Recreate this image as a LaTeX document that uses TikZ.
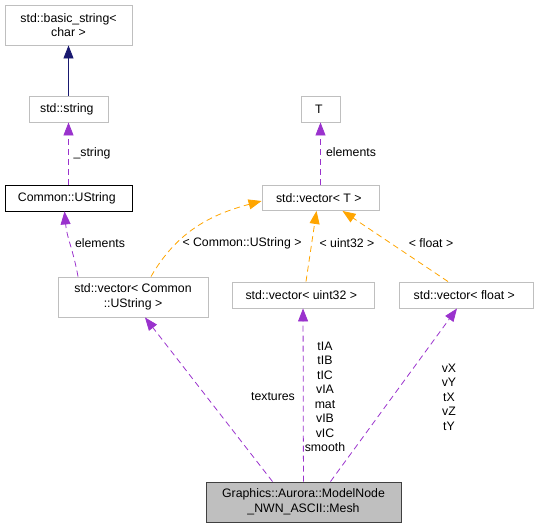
\documentclass[tikz,border=0pt]{standalone}
\usepackage{fontspec}
\setmainfont{Liberation Sans}
\usetikzlibrary{arrows.meta,positioning}
\definecolor{boxgray}{HTML}{BFBFBF}
\definecolor{meshfill}{HTML}{BFBFBF}
\definecolor{usepurple}{HTML}{9A32CD}
\definecolor{tmplorange}{HTML}{FFA500}
\definecolor{inhnavy}{HTML}{191970}

\begin{document}
\begin{tikzpicture}[x=1pt, y=1pt,
every node/.style={
    rectangle,
    inner sep=2pt,
    align=center,
    draw=boxgray,
    fill=white,
    line width=0.9pt,
    minimum height=26pt,
    font=\fontsize{12.3}{14.5}\selectfont
},
edgelabel/.style={draw=none, fill=none, minimum height=0pt, inner sep=0pt},
usage/.style={-{Triangle[length=13pt, width=10pt]}, usepurple, line width=0.8pt, dash pattern=on 6pt off 4pt},
tmpl/.style={-{Triangle[length=13pt, width=10pt]}, tmplorange, line width=0.8pt, dash pattern=on 6pt off 4pt},
inherit/.style={-{Triangle[length=13pt, width=10pt]}, inhnavy, line width=0.8pt}
]
    \useasboundingbox (0,0) rectangle (538,528);

    \node (basic_string) [minimum width=127pt, minimum height=40pt, shift={(68.5, 503)}]
    {
        std::basic\_string<\\ char >
    };
    \node (std_string) [minimum width=79pt, shift={(68.5, 419)}]
    {
        std::string
    };
    \node (common_ustring) [draw=black, minimum width=127pt, shift={(68.5, 330)}]
    {
        Common::UString
    };
    \node (vector_ustring) [minimum width=150pt, minimum height=40pt, shift={(133, 231)}]
    {
        std::vector< Common\\ ::UString >
    };

    %templates

    \node (t_param) [minimum width=39pt, shift={(320.5, 419)}]
    {
        T
    };
    \node (vector_t) [minimum width=117pt, minimum height=25pt, shift={(320.5, 330)}]
    {
        std::vector< T >
    };
    \node (vector_uint32) [minimum width=142pt, shift={(303, 233)}]
    {
        std::vector< uint32 >
    };
    \node (vector_float) [minimum width=134pt, shift={(466, 233)}]
    {
        std::vector< float >
    };

    \node (mesh) [draw=black!75, fill=meshfill, minimum width=195pt, minimum height=40pt, shift={(303.5, 26)}]
    {
        Graphics::Aurora::ModelNode\\ \_NWN\_ASCII::Mesh
    };

    %labels

    \node (lbl_string) [edgelabel, shift={(92, 375)}] {\_string};
    \node (lbl_elements_ustring) [edgelabel, shift={(100, 285)}] {elements};
    \node (lbl_tmpl_ustring) [edgelabel, shift={(242, 285)}] {< Common::UString >};
    \node (lbl_elements_t) [edgelabel, shift={(351, 376)}] {elements};
    \node (lbl_tmpl_uint32) [edgelabel, shift={(347, 285)}] {< uint32 >};
    \node (lbl_tmpl_float) [edgelabel, shift={(431, 285)}] {< float >};
    \node (lbl_textures) [edgelabel, shift={(273, 131)}] {textures};
    \node (lbl_uint32_members) [edgelabel, shift={(325, 131)}] {tIA\\ tIB\\ tIC\\ vIA\\ mat\\ vIB\\ vIC\\ smooth};
    \node (lbl_float_members) [edgelabel, shift={(449, 131)}] {vX\\ vY\\ tX\\ vZ\\ tY};

    \draw[inherit] (std_string) to (basic_string);
    \draw[usage] (common_ustring) to (std_string);
    \draw[usage] ([xshift=-55pt]vector_ustring.north) to[out=100, in=-85] ([xshift=-4pt]common_ustring.south);
    \draw[tmpl] ([xshift=18pt]vector_ustring.north) to[out=60, in=195] ([yshift=-3pt]vector_t.west);
    \draw[usage] (vector_t) to (t_param);
    \draw[tmpl] ([xshift=3pt]vector_uint32.north) to ([xshift=-4pt]vector_t.south);
    \draw[tmpl] ([xshift=-18pt]vector_float.north) to ([xshift=22pt]vector_t.south);
    \draw[usage] ([xshift=-31pt]mesh.north) to ([xshift=12pt]vector_ustring.south);
    \draw[usage] (mesh) to (vector_uint32);
    \draw[usage] ([xshift=27pt]mesh.north) to ([xshift=-9pt]vector_float.south);

\end{tikzpicture}
\end{document}
